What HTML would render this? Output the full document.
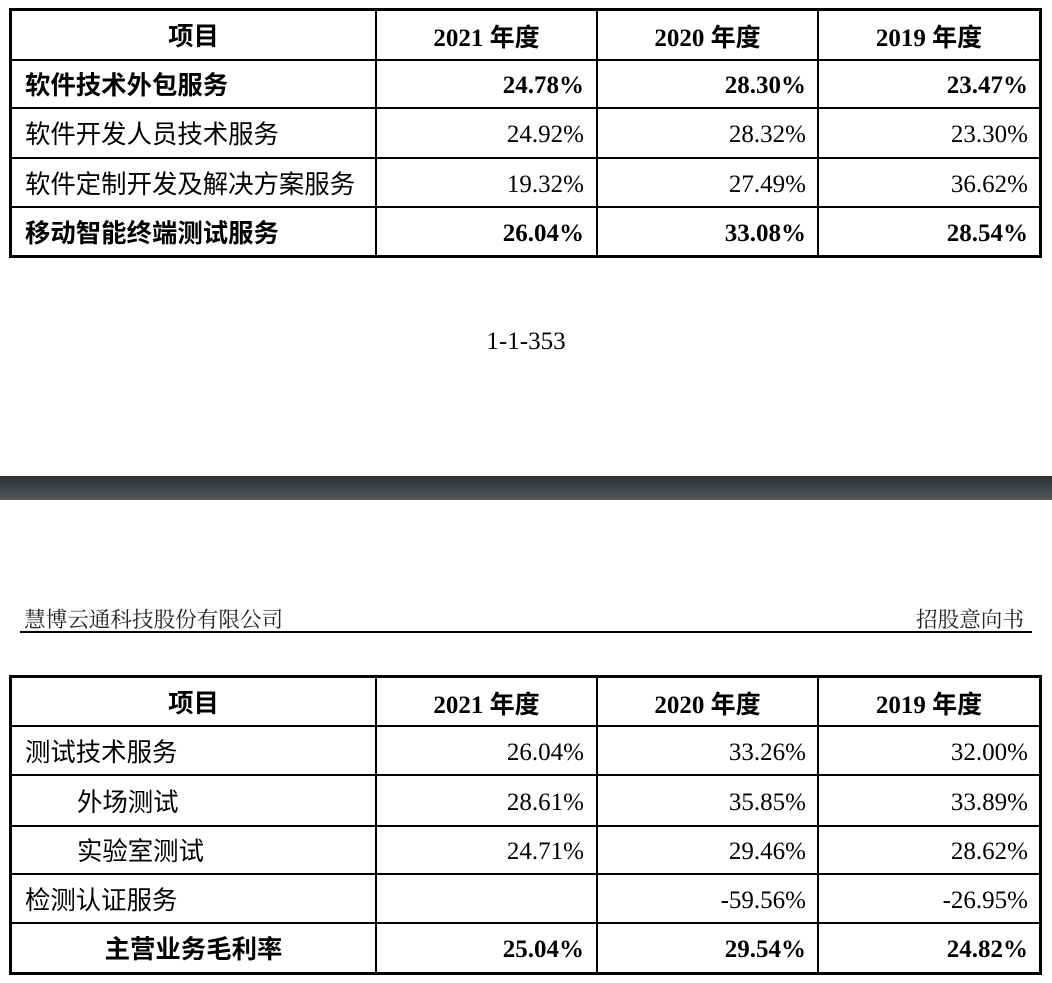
<!DOCTYPE html>
<html><head><meta charset="utf-8"><style>
html,body{margin:0;padding:0;background:#fff;}
body{width:1052px;height:983px;position:relative;overflow:hidden;}
.a{position:absolute;}
.box{position:absolute;border:3px solid #000;box-sizing:border-box;}
.h{position:absolute;height:2px;background:#000;}
.v{position:absolute;width:2px;background:#000;}
.c{position:absolute;display:flex;align-items:center;white-space:nowrap;color:#000;box-sizing:border-box;}
.zh{font-family:"Liberation Sans","Noto Sans CJK SC",sans-serif;font-size:25.4px;}
.num{font-family:"Liberation Serif","Noto Serif CJK SC",serif;font-size:25px;justify-content:flex-end;padding-top:4px;}
.b{font-weight:bold;}
.ctr{justify-content:center;}
.hd{font-family:"Liberation Serif","Noto Sans CJK SC",serif;font-weight:bold;font-size:25px;justify-content:center;padding-top:2px;}
</style></head><body>

<!-- Table 1 -->
<div class="box" style="left:9px;top:8px;width:1033px;height:250px;"></div>
<div class="h" style="left:9px;width:1033px;top:59px;"></div>
<div class="h" style="left:9px;width:1033px;top:107px;"></div>
<div class="h" style="left:9px;width:1033px;top:157px;"></div>
<div class="h" style="left:9px;width:1033px;top:206px;"></div>
<div class="v" style="left:375px;top:8px;height:250px;"></div>
<div class="v" style="left:596px;top:8px;height:250px;"></div>
<div class="v" style="left:817px;top:8px;height:250px;"></div>

<div class="c zh b ctr" style="left:12px;width:363px;top:11px;height:48px;">项目</div>
<div class="c hd" style="left:377px;width:219px;top:11px;height:48px;">2021 年度</div>
<div class="c hd" style="left:598px;width:219px;top:11px;height:48px;">2020 年度</div>
<div class="c hd" style="left:819px;width:220px;top:11px;height:48px;">2019 年度</div>

<div class="c zh b" style="left:25px;top:61px;height:46px;">软件技术外包服务</div>
<div class="c num b" style="left:377px;width:207px;top:61px;height:46px;">24.78%</div>
<div class="c num b" style="left:598px;width:208px;top:61px;height:46px;">28.30%</div>
<div class="c num b" style="left:819px;width:209px;top:61px;height:46px;">23.47%</div>

<div class="c zh" style="left:25px;top:109px;height:48px;">软件开发人员技术服务</div>
<div class="c num" style="left:377px;width:207px;top:109px;height:48px;">24.92%</div>
<div class="c num" style="left:598px;width:208px;top:109px;height:48px;">28.32%</div>
<div class="c num" style="left:819px;width:209px;top:109px;height:48px;">23.30%</div>

<div class="c zh" style="left:25px;top:159px;height:47px;">软件定制开发及解决方案服务</div>
<div class="c num" style="left:377px;width:207px;top:159px;height:47px;">19.32%</div>
<div class="c num" style="left:598px;width:208px;top:159px;height:47px;">27.49%</div>
<div class="c num" style="left:819px;width:209px;top:159px;height:47px;">36.62%</div>

<div class="c zh b" style="left:25px;top:208px;height:47px;">移动智能终端测试服务</div>
<div class="c num b" style="left:377px;width:207px;top:208px;height:47px;">26.04%</div>
<div class="c num b" style="left:598px;width:208px;top:208px;height:47px;">33.08%</div>
<div class="c num b" style="left:819px;width:209px;top:208px;height:47px;">28.54%</div>

<!-- page number -->
<div class="c num" style="left:426px;width:200px;top:324px;height:32px;justify-content:center;">1-1-353</div>

<!-- separator bar -->
<div class="a" style="left:0;top:476px;width:1052px;height:24px;background:linear-gradient(#2e3032,#3f4244 50%,#55595c);"></div>

<!-- page header -->
<div class="c" style="left:24px;top:604px;height:28px;font-family:'Liberation Serif','Noto Serif CJK SC',serif;font-size:21.6px;color:#222;">慧博云通科技股份有限公司</div>
<div class="c" style="left:880px;width:144px;top:604px;height:28px;justify-content:flex-end;font-family:'Liberation Serif','Noto Serif CJK SC',serif;font-size:21.6px;color:#222;">招股意向书</div>
<div class="h" style="left:20px;width:1012px;top:631px;"></div>

<!-- Table 2 -->
<div class="box" style="left:9px;top:675px;width:1033px;height:300px;"></div>
<div class="h" style="left:9px;width:1033px;top:725px;"></div>
<div class="h" style="left:9px;width:1033px;top:774px;"></div>
<div class="h" style="left:9px;width:1033px;top:825px;"></div>
<div class="h" style="left:9px;width:1033px;top:873px;"></div>
<div class="h" style="left:9px;width:1033px;top:922px;"></div>
<div class="v" style="left:375px;top:675px;height:300px;"></div>
<div class="v" style="left:596px;top:675px;height:300px;"></div>
<div class="v" style="left:817px;top:675px;height:300px;"></div>

<div class="c zh b ctr" style="left:12px;width:363px;top:678px;height:47px;">项目</div>
<div class="c hd" style="left:377px;width:219px;top:678px;height:47px;">2021 年度</div>
<div class="c hd" style="left:598px;width:219px;top:678px;height:47px;">2020 年度</div>
<div class="c hd" style="left:819px;width:220px;top:678px;height:47px;">2019 年度</div>

<div class="c zh" style="left:25px;top:727px;height:47px;">测试技术服务</div>
<div class="c num" style="left:377px;width:207px;top:727px;height:47px;">26.04%</div>
<div class="c num" style="left:598px;width:208px;top:727px;height:47px;">33.26%</div>
<div class="c num" style="left:819px;width:209px;top:727px;height:47px;">32.00%</div>

<div class="c zh" style="left:77px;top:776px;height:49px;">外场测试</div>
<div class="c num" style="left:377px;width:207px;top:776px;height:49px;">28.61%</div>
<div class="c num" style="left:598px;width:208px;top:776px;height:49px;">35.85%</div>
<div class="c num" style="left:819px;width:209px;top:776px;height:49px;">33.89%</div>

<div class="c zh" style="left:77px;top:827px;height:46px;">实验室测试</div>
<div class="c num" style="left:377px;width:207px;top:827px;height:46px;">24.71%</div>
<div class="c num" style="left:598px;width:208px;top:827px;height:46px;">29.46%</div>
<div class="c num" style="left:819px;width:209px;top:827px;height:46px;">28.62%</div>

<div class="c zh" style="left:25px;top:875px;height:47px;">检测认证服务</div>
<div class="c num" style="left:598px;width:208px;top:875px;height:47px;">-59.56%</div>
<div class="c num" style="left:819px;width:209px;top:875px;height:47px;">-26.95%</div>

<div class="c zh b ctr" style="left:12px;width:363px;top:924px;height:48px;">主营业务毛利率</div>
<div class="c num b" style="left:377px;width:207px;top:924px;height:48px;">25.04%</div>
<div class="c num b" style="left:598px;width:208px;top:924px;height:48px;">29.54%</div>
<div class="c num b" style="left:819px;width:209px;top:924px;height:48px;">24.82%</div>

</body></html>
